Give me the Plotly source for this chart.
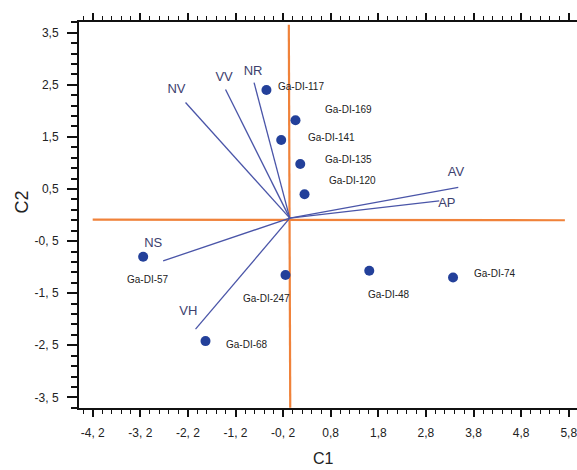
import plotly.graph_objects as go

# Genotype scores
genotypes = ["Ga-DI-117", "Ga-DI-169", "Ga-DI-141", "Ga-DI-135", "Ga-DI-120",
             "Ga-DI-57", "Ga-DI-247", "Ga-DI-68", "Ga-DI-48", "Ga-DI-74"]
c1 = [-0.55, 0.06, -0.24, 0.16, 0.25, -3.14, -0.15, -1.83, 1.61, 3.37]
c2 = [2.40, 1.82, 1.44, 0.98, 0.40, -0.80, -1.15, -2.42, -1.07, -1.20]
lab_x = [-0.35, 0.63, 0.28, 0.645, 0.72, -3.52, -1.09, -1.44, 1.54, 3.76]
lab_y = [2.46, 2.02, 1.485, 1.07, 0.66, -1.23, -1.60, -2.49, -1.53, -1.13]

# Variable loadings (vector end points)
variables = ["NV", "VV", "NR", "AV", "AP", "NS", "VH"]
vec_x = [-2.25, -1.41, -0.81, 3.48, 3.08, -2.72, -2.04]
vec_y = [2.16, 2.41, 2.54, 0.53, 0.27, -0.88, -2.19]
vlab_x = [-2.44, -1.44, -0.83, 3.43, 3.24, -2.93, -2.19]
vlab_y = [2.41, 2.64, 2.75, 0.81, 0.225, -0.556, -1.855]
origin = (-0.06, -0.06)

# Reference cross lines
hline_x = [-4.2, 5.72]
hline_y = [-0.09, -0.10]
vline_x = [-0.08, -0.05]
vline_y = [3.65, -3.70]

x_ticks = [-4.2, -3.2, -2.2, -1.2, -0.2, 0.8, 1.8, 2.8, 3.8, 4.8, 5.8]
x_text = ["-4, 2", "-3, 2", "-2, 2", "-1, 2", "-0, 2", "0,8", "1,8", "2,8", "3,8", "4,8", "5,8"]
y_ticks = [3.5, 2.5, 1.5, 0.5, -0.5, -1.5, -2.5, -3.5]
y_text = ["3,5", "2,5", "1,5", "0,5", "-0, 5", "-1, 5", "-2, 5", "-3, 5"]

ORANGE = "#f0823a"
VEC = "#4a55a8"
DOT = "#23409a"
FONT = "Liberation Sans, Arial"

fig = go.Figure()

fig.add_trace(go.Scatter(x=hline_x, y=hline_y, mode="lines",
                         line=dict(color=ORANGE, width=2.2), hoverinfo="skip"))
fig.add_trace(go.Scatter(x=vline_x, y=vline_y, mode="lines",
                         line=dict(color=ORANGE, width=2.2), hoverinfo="skip"))

vx, vy = [], []
for ex, ey in zip(vec_x, vec_y):
    vx += [origin[0], ex, None]
    vy += [origin[1], ey, None]
fig.add_trace(go.Scatter(x=vx, y=vy, mode="lines",
                         line=dict(color=VEC, width=1.3), hoverinfo="skip"))

fig.add_trace(go.Scatter(x=vlab_x, y=vlab_y, mode="text", text=variables,
                         textposition="middle center",
                         textfont=dict(family=FONT, size=13, color="#3d416e")))

fig.add_trace(go.Scatter(x=c1, y=c2, mode="markers",
                         marker=dict(color=DOT, size=10, line=dict(width=0))))

for name, lx, ly in zip(genotypes, lab_x, lab_y):
    fig.add_annotation(x=lx, y=ly, text=name, showarrow=False, xanchor="left",
                       yanchor="middle", font=dict(family=FONT, size=10, color="#222222"))

fig.add_annotation(x=0.49, y=-0.13, xref="paper", yref="paper", text="C1",
                   xanchor="center", yanchor="middle",
                   showarrow=False, font=dict(family=FONT, size=16, color="#222222"))
fig.add_annotation(x=-0.115, y=0.534, xref="paper", yref="paper", text="C2", textangle=-90,
                   xanchor="center", yanchor="middle",
                   showarrow=False, font=dict(family=FONT, size=18, color="#222222"))

fig.update_layout(
    width=577, height=470,
    margin=dict(l=79, r=0, t=22, b=62),
    paper_bgcolor="white", plot_bgcolor="white",
    showlegend=False,
    xaxis=dict(range=[-4.488, 5.974], tickmode="array", tickvals=x_ticks, ticktext=x_text,
               showgrid=False, zeroline=False, showline=True, linecolor="#111111", linewidth=2,
               mirror="ticks", ticks="outside", ticklen=7, tickwidth=1.5, tickcolor="#111111",
               ticklabelstandoff=6, automargin=False, ticklabeloverflow="allow",
               tickfont=dict(family=FONT, size=12, color="#222222"),
               minor=dict(ticks="outside", ticklen=4, tickwidth=1.2, tickcolor="#111111",
                          tickmode="linear", tick0=-4.2, dtick=0.2, showgrid=False)),
    yaxis=dict(range=[-3.704, 3.705], tickmode="array", tickvals=y_ticks, ticktext=y_text,
               showgrid=False, zeroline=False, showline=True, linecolor="#111111", linewidth=2,
               ticks="outside", ticklen=10, tickwidth=1.5, tickcolor="#111111",
               ticklabelstandoff=6, automargin=False, ticklabeloverflow="allow",
               tickfont=dict(family=FONT, size=12, color="#222222"),
               minor=dict(ticks="outside", ticklen=6, tickwidth=2, tickcolor="#111111",
                          tickmode="linear", tick0=-3.5, dtick=0.2, showgrid=False)),
)

fig.write_html("out.html", config={"displayModeBar": False},
               post_script="document.body.style.margin='0';")
